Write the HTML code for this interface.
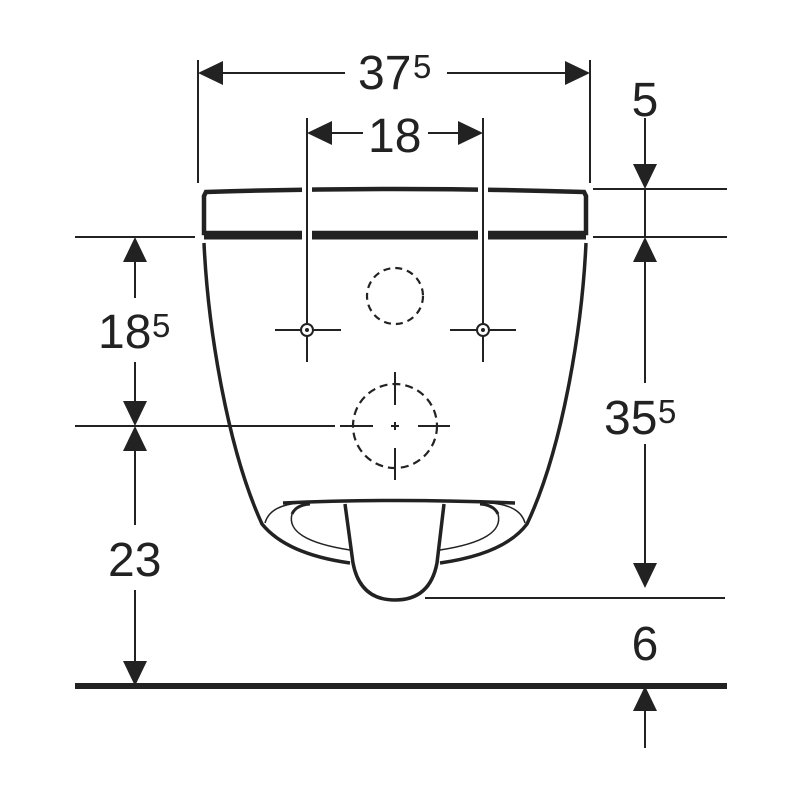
<!DOCTYPE html>
<html><head><meta charset="utf-8"><style>html,body{margin:0;padding:0;background:#fff}svg{display:block}</style></head>
<body>
<svg width="800" height="800" viewBox="0 0 800 800" xmlns="http://www.w3.org/2000/svg">
<g stroke="#222" fill="none" stroke-linecap="butt">
<!-- bowl -->
<path d="M204,243 C208,330 228,450 262,524 C275,540 300,556 350,563" stroke-width="3.5"/>
<path d="M586,243 C582,330 562,450 527,524 C515,540 490,556 440,563" stroke-width="3.5"/>
<path d="M283,503 Q395,498 515,503" stroke-width="3.5"/>
<path d="M265,523 Q270,505 300,503 M525,523 Q520,505 490,503" stroke-width="1.5"/>
<path d="M292,514 Q285,540 350,550" stroke-width="1.5"/>
<path d="M292,514 Q296,505 310,504" stroke-width="3"/>
<path d="M498,514 Q505,540 440,550" stroke-width="1.5"/>
<path d="M498,514 Q494,505 480,504" stroke-width="3"/>
<path d="M345,504 L353,563 Q360,600 395,600 Q430,600 437,563 L444,504" stroke-width="3.5" fill="#fff"/>
<!-- lid -->
<path d="M206,192 Q395,186 584,192 L586,196 L586,233 L204,233 L204,196 Z" stroke-width="4.5"/>
<line x1="204" y1="237" x2="586" y2="237" stroke-width="5"/>
<g stroke="#fff" stroke-width="10">
<line x1="307" y1="186" x2="307" y2="241"/><line x1="483" y1="186" x2="483" y2="241"/>
</g>
<!-- dashed circles -->
<circle cx="395" cy="296" r="28" stroke-width="2.2" stroke-dasharray="7,5"/>
<circle cx="395" cy="426" r="42" stroke-width="2.2" stroke-dasharray="8,5"/>
<g stroke-width="2">
<line x1="395" y1="372" x2="395" y2="405"/><line x1="395" y1="448" x2="395" y2="480"/>
<line x1="340" y1="426" x2="373" y2="426"/><line x1="418" y1="426" x2="450" y2="426"/>
<line x1="391" y1="426" x2="399" y2="426"/><line x1="395" y1="422" x2="395" y2="430"/>
</g>
<!-- crosshairs -->
<g stroke-width="2">
<line x1="275" y1="330" x2="341" y2="330"/><line x1="307" y1="336" x2="307" y2="362"/>
<line x1="450" y1="330" x2="516" y2="330"/><line x1="483" y1="336" x2="483" y2="362"/>
</g>
<circle cx="307" cy="330" r="6" stroke-width="2" fill="#fff"/>
<circle cx="483" cy="330" r="6" stroke-width="2" fill="#fff"/>
<circle cx="307" cy="330" r="1.5" fill="#222"/>
<circle cx="483" cy="330" r="1.5" fill="#222"/>
<!-- extension lines -->
<g stroke-width="2">
<line x1="198" y1="60" x2="198" y2="183"/><line x1="590" y1="60" x2="590" y2="183"/>
<line x1="307" y1="118" x2="307" y2="324"/><line x1="483" y1="118" x2="483" y2="324"/>
<line x1="593" y1="189" x2="727" y2="189"/>
<line x1="75" y1="237" x2="195" y2="237"/><line x1="593" y1="237" x2="727" y2="237"/>
<line x1="75" y1="426" x2="335" y2="426"/>
<line x1="425" y1="598" x2="725" y2="598"/>
<!-- dim lines -->
<line x1="220" y1="73" x2="345" y2="73"/><line x1="447" y1="73" x2="570" y2="73"/>
<line x1="328" y1="133" x2="363" y2="133"/><line x1="428" y1="133" x2="462" y2="133"/>
<line x1="135" y1="260" x2="135" y2="298"/><line x1="135" y1="362" x2="135" y2="403"/>
<line x1="135" y1="450" x2="135" y2="525"/><line x1="135" y1="590" x2="135" y2="663"/>
<line x1="645" y1="118" x2="645" y2="168"/>
<line x1="645" y1="189" x2="645" y2="237"/>
<line x1="645" y1="258" x2="645" y2="383"/><line x1="645" y1="444" x2="645" y2="566"/>
<line x1="645" y1="708" x2="645" y2="748"/>
</g>
<line x1="75" y1="686" x2="727" y2="686" stroke-width="6"/>
</g>
<g fill="#222">
<polygon points="198,73 223,61 223,85"/><polygon points="590,73 565,61 565,85"/>
<polygon points="307,133 332,121 332,145"/><polygon points="483,133 458,121 458,145"/>
<polygon points="135,237 123,262 147,262"/><polygon points="135,426 123,401 147,401"/>
<polygon points="135,426 123,451 147,451"/><polygon points="135,686 123,661 147,661"/>
<polygon points="645,189 633,164 657,164"/><polygon points="645,237 633,262 657,262"/>
<polygon points="645,588 633,563 657,563"/><polygon points="645,686 633,711 657,711"/>
</g>
<g font-family="Liberation Sans, sans-serif" fill="#222">
<text x="358" y="89" font-size="48">37</text><text x="413" y="78" font-size="33">5</text>
<text x="368" y="152" font-size="48">18</text>
<text x="645" y="116" font-size="48" text-anchor="middle">5</text>
<text x="98" y="348" font-size="48">18</text><text x="152" y="337" font-size="33">5</text>
<text x="604" y="434" font-size="48">35</text><text x="658" y="423" font-size="33">5</text>
<text x="108" y="576" font-size="48">23</text>
<text x="645" y="660" font-size="48" text-anchor="middle">6</text>
</g>
</svg>
</body></html>
